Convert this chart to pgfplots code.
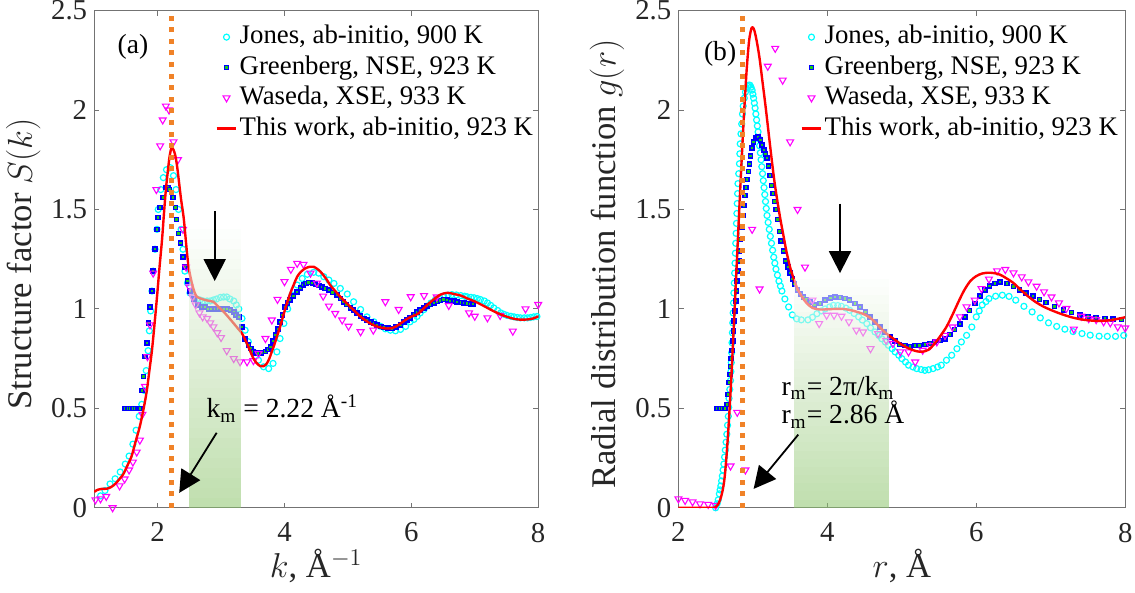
\documentclass[border=0pt]{standalone}
\usepackage{fontspec}
\setmainfont{Liberation Serif}
\usepackage{pgfplots}
\pgfplotsset{compat=1.18}
\usetikzlibrary{arrows.meta}

\definecolor{mcyan}{rgb}{0,1,1}
\definecolor{mblue}{rgb}{0,0,1}
\definecolor{mgreen}{rgb}{0.1,0.8,0.1}
\definecolor{mmag}{rgb}{1,0,1}
\definecolor{mred}{rgb}{1,0,0}
\definecolor{morange}{RGB}{240,130,40}
\definecolor{shadegreen}{RGB}{140,196,108}

\newcommand\fsTick{\fontsize{14.4}{17}\selectfont}
\newcommand\fsLab{\fontsize{17.3}{20}\selectfont}
\newcommand\fsLeg{\fontsize{13.4}{15}\selectfont}
\newcommand\fsAnn{\fontsize{13.8}{16}\selectfont}

\pgfplotsset{
 panel/.style={
  scale only axis, height=248.6pt,
  ymin=0, ymax=2.5, ytick={0,0.5,1,1.5,2,2.5},
  tick align=inside, major tick length=2.6pt,
  axis line style={black!55, line width=0.45pt},
  every tick/.style={black!55, line width=0.45pt},
  tick label style={font=\fsTick, text=black!85},
  /pgf/number format/assume math mode=true,
  xticklabel style={yshift=-4pt},
  every axis x label/.style={at={(axis description cs:0.5,-0.118)}, anchor=center, font=\fsLab, text=black!85},
  every axis y label/.style={at={(axis description cs:-0.16,0.49)}, rotate=90, anchor=center, font=\fsLab, text=black!85},
  legend style={draw=none, fill=none, font=\fsLeg, anchor=north west, inner sep=0pt, row sep=0.5pt,
     nodes={inner sep=1pt, text height=9.7pt, text depth=3pt}},
  legend cell align=left,
  clip mode=individual,
 },
 jones/.style={only marks, mark=o, mark size=1.5pt, color=mcyan, mark options={line width=0.6pt},
   legend image code/.code={\draw[##1] plot coordinates {(0.175cm,0cm)};}},
 green/.style={only marks, mark=square*, mark size=1.0pt, color=mblue,
   mark options={line width=0.8pt, draw=mblue, fill=mgreen},
   legend image code/.code={\draw[##1] plot coordinates {(0.175cm,0cm)};}},
 wased/.style={only marks, mark=triangle, mark size=2.0pt, color=mmag, mark options={rotate=180, line width=0.55pt},
   legend image code/.code={\draw[##1] plot coordinates {(0.175cm,0cm)};}},
 work/.style={mred, line width=1.2pt, smooth, no marks, line join=round,
   legend image code/.code={\draw[##1] (0cm,0cm) -- (0.35cm,0cm);}},
}

\begin{document}
\begin{tikzpicture}
\useasboundingbox (0,0) rectangle (567.5pt,296.5pt);

% ---------------- (a) S(k) ----------------
\begin{axis}[panel, at={(47.1pt,42.6pt)}, anchor=south west, width=222pt,
  xmin=1, xmax=8, xtick={2,4,6,8},
  xlabel={$k$, Å$^{-1}$}, ylabel={Structure factor $S(k)$},
  legend style={at={(0.272,0.977)}}]
\addplot[jones] coordinates {
(1.10,0.06)(1.17,0.087)(1.25,0.12)(1.33,0.146)(1.41,0.18)(1.49,0.22)(1.55,0.26)(1.61,0.32)
(1.66,0.39)(1.71,0.46)(1.75,0.52)(1.79,0.59)(1.82,0.69)(1.85,0.79)(1.87,0.89)(1.89,0.99)
(1.91,1.09)(1.93,1.19)(1.96,1.30)(1.99,1.40)(2.01,1.50)(2.05,1.60)(2.09,1.66)(2.14,1.70)
(2.20,1.71)(2.25,1.67)(2.29,1.60)(2.33,1.50)(2.37,1.40)(2.40,1.30)(2.43,1.19)(2.47,1.13)
(2.51,1.08)(2.57,1.06)(2.62,1.05)(2.67,1.045)(2.72,1.04)(2.78,1.04)(2.83,1.04)(2.88,1.045)
(2.93,1.05)(2.99,1.058)(3.04,1.06)(3.09,1.06)(3.14,1.05)(3.20,1.04)(3.24,1.02)(3.28,1.00)
(3.33,0.952)(3.38,0.893)(3.43,0.835)(3.51,0.784)(3.59,0.742)(3.67,0.709)(3.75,0.700)(3.82,0.726)
(3.88,0.784)(3.93,0.851)(3.99,0.927)(4.05,1.00)(4.12,1.07)(4.20,1.12)(4.28,1.153)(4.36,1.174)
(4.46,1.184)(4.54,1.18)(4.62,1.162)(4.70,1.145)(4.78,1.128)(4.88,1.103)(4.99,1.075)(5.09,1.036)
(5.20,0.997)(5.30,0.96)(5.41,0.935)(5.51,0.913)(5.59,0.90)(5.67,0.893)(5.75,0.890)(5.83,0.897)
(5.91,0.912)(5.98,0.935)(6.04,0.947)(6.09,0.962)(6.14,0.98)(6.20,0.997)(6.25,1.014)(6.31,1.03)
(6.38,1.047)(6.45,1.056)(6.51,1.064)(6.58,1.069)(6.64,1.072)(6.71,1.07)(6.78,1.067)(6.84,1.064)
(6.88,1.061)(6.94,1.058)(6.99,1.056)(7.04,1.052)(7.09,1.047)(7.15,1.04)(7.20,1.03)(7.25,1.018)
(7.30,1.005)(7.36,0.992)(7.41,0.980)(7.46,0.973)(7.51,0.967)(7.57,0.963)(7.62,0.960)(7.67,0.957)
(7.72,0.955)(7.78,0.955)(7.83,0.955)(7.88,0.957)(7.93,0.960)(7.98,0.962)};
\addlegendentry{Jones, ab-initio, 900 K}
\addplot[green] coordinates {
(1.49,0.50)(1.53,0.50)(1.57,0.50)(1.61,0.50)(1.65,0.50)(1.69,0.50)(1.72,0.50)(1.75,0.59)
(1.78,0.66)(1.80,0.76)(1.83,0.83)(1.855,0.93)(1.88,1.01)(1.91,1.09)(1.93,1.19)(1.96,1.30)
(1.99,1.40)(2.01,1.46)(2.04,1.51)(2.08,1.56)(2.13,1.61)(2.16,1.61)(2.19,1.60)(2.24,1.56)
(2.28,1.51)(2.30,1.45)(2.33,1.38)(2.36,1.33)(2.40,1.26)(2.43,1.21)(2.47,1.14)(2.51,1.09)
(2.57,1.05)(2.64,1.02)(2.70,1.01)(2.75,1.01)(2.80,1.00)(2.85,1.00)(2.90,1.00)(2.95,1.00)
(3.00,1.00)(3.05,1.00)(3.10,1.00)(3.15,0.995)(3.20,0.985)(3.24,0.97)(3.28,0.96)(3.33,0.91)
(3.38,0.85)(3.43,0.82)(3.47,0.80)(3.51,0.785)(3.55,0.778)(3.59,0.776)(3.64,0.778)(3.70,0.785)
(3.74,0.795)(3.78,0.81)(3.82,0.84)(3.86,0.87)(3.90,0.90)(3.93,0.935)(3.97,0.97)(4.01,1.01)
(4.05,1.03)(4.09,1.044)(4.14,1.065)(4.20,1.086)(4.25,1.105)(4.30,1.12)(4.34,1.128)(4.38,1.132)
(4.44,1.13)(4.49,1.125)(4.54,1.118)(4.59,1.111)(4.64,1.103)(4.70,1.095)(4.76,1.083)(4.83,1.07)
(4.88,1.053)(4.93,1.036)(4.98,1.022)(5.04,1.005)(5.09,0.994)(5.14,0.98)(5.20,0.965)(5.25,0.952)
(5.30,0.944)(5.36,0.935)(5.41,0.927)(5.46,0.92)(5.52,0.912)(5.57,0.907)(5.63,0.904)(5.70,0.902)
(5.76,0.909)(5.83,0.918)(5.88,0.935)(5.93,0.944)(5.98,0.955)(6.04,0.972)(6.09,0.983)(6.14,0.995)
(6.20,1.005)(6.25,1.014)(6.30,1.022)(6.36,1.03)(6.41,1.037)(6.46,1.043)(6.51,1.047)(6.57,1.044)
(6.62,1.040)(6.67,1.039)(6.72,1.035)(6.78,1.032)(6.83,1.03)(6.88,1.028)(6.93,1.026)(6.97,1.026)};
\addlegendentry{Greenberg, NSE, 923 K}
\addplot[wased] coordinates {
(1.02,0.040)(1.10,0.045)(1.19,0.057)(1.29,0.000)(1.40,0.110)(1.48,0.145)(1.55,0.190)(1.61,0.230)
(1.67,0.280)(1.72,0.340)(1.76,0.470)(1.80,0.610)(1.84,0.760)(1.88,0.920)(1.93,1.180)(1.98,1.600)
(2.04,1.820)(2.08,1.950)(2.13,2.020)(2.18,2.000)(2.25,1.840)(2.32,1.750)(2.40,1.400)(2.45,1.210)
(2.50,1.110)(2.55,1.060)(2.60,1.020)(2.66,0.980)(2.71,0.960)(2.78,0.952)(2.83,0.930)(2.88,0.910)
(2.94,0.880)(3.00,0.856)(3.09,0.790)(3.20,0.750)(3.30,0.734)(3.41,0.734)(3.51,0.740)(3.59,0.776)
(3.70,0.851)(3.80,0.944)(3.89,1.048)(4.00,1.137)(4.10,1.199)(4.20,1.229)(4.30,1.224)(4.41,1.180)
(4.51,1.130)(4.61,1.064)(4.70,1.014)(4.80,0.977)(4.91,0.944)(5.01,0.913)(5.20,0.885)(5.40,0.893)
(5.59,1.036)(5.80,0.997)(5.99,1.061)(6.20,1.067)(6.40,1.060)(6.59,1.017)(6.91,0.980)(7.00,0.963)
(7.20,0.955)(7.40,0.967)(7.60,0.888)(7.80,1.000)(8.00,1.022)};
\addlegendentry{Waseda, XSE, 933 K}
\addplot[work] coordinates {
(1.00,0.080)(1.05,0.090)(1.12,0.095)(1.20,0.096)(1.27,0.105)(1.33,0.12)(1.40,0.145)(1.46,0.17)
(1.52,0.21)(1.59,0.26)(1.65,0.33)(1.72,0.41)(1.78,0.50)(1.83,0.59)(1.87,0.69)(1.91,0.79)
(1.95,0.92)(1.99,1.06)(2.03,1.21)(2.07,1.35)(2.10,1.48)(2.13,1.60)(2.16,1.69)(2.19,1.77)
(2.22,1.81)(2.25,1.80)(2.28,1.77)(2.31,1.71)(2.34,1.63)(2.37,1.55)(2.41,1.46)(2.44,1.36)
(2.47,1.26)(2.50,1.19)(2.54,1.13)(2.58,1.085)(2.62,1.06)(2.67,1.053)(2.75,1.045)(2.82,1.04)
(2.88,1.036)(2.96,1.01)(3.04,0.986)(3.12,0.957)(3.20,0.927)(3.27,0.90)(3.33,0.877)(3.38,0.845)
(3.43,0.81)(3.47,0.78)(3.51,0.751)(3.56,0.728)(3.62,0.712)(3.67,0.712)(3.72,0.725)(3.76,0.75)
(3.80,0.785)(3.84,0.82)(3.88,0.86)(3.94,0.92)(3.99,0.977)(4.04,1.03)(4.09,1.078)(4.15,1.125)
(4.20,1.162)(4.26,1.187)(4.33,1.204)(4.40,1.212)(4.46,1.212)(4.53,1.198)(4.59,1.179)(4.66,1.15)
(4.72,1.12)(4.80,1.09)(4.88,1.061)(4.96,1.035)(5.04,1.01)(5.12,0.985)(5.20,0.96)(5.28,0.942)
(5.35,0.927)(5.43,0.915)(5.51,0.907)(5.59,0.902)(5.67,0.902)(5.75,0.91)(5.83,0.927)(5.91,0.945)
(5.99,0.96)(6.07,0.97)(6.14,0.985)(6.25,1.02)(6.35,1.047)(6.46,1.072)(6.57,1.081)(6.67,1.075)
(6.78,1.067)(6.88,1.053)(6.99,1.039)(7.10,1.022)(7.20,1.005)(7.30,0.988)(7.41,0.972)(7.51,0.96)
(7.62,0.95)(7.72,0.946)(7.83,0.947)(7.92,0.952)(8.00,0.962)};
\addlegendentry{This work, ab-initio, 923 K}
\addplot[morange, line width=2.5pt, dash pattern=on 2.5pt off 3.3pt, forget plot] coordinates {(2.22,0) (2.22,2.5)};
\pgfplotsinvokeforeach{0,...,27}{
  \fill[shadegreen!\the\numexpr100-(100*#1)/28\relax!white, opacity=0.55]
     (axis cs:2.5,{#1*1.4/28}) rectangle (axis cs:3.31,{(#1+1)*1.4/28});
}
\draw[black, line width=0.9pt, -{Triangle[width=11pt,length=11pt]}] (axis cs:2.90,1.49) -- (axis cs:2.90,1.14);
\draw[black, line width=0.9pt, -{Triangle[width=11pt,length=11pt]}] (axis cs:2.93,0.377) -- (axis cs:2.34,0.075);
\node[anchor=base west, font=\fsAnn] at (axis cs:2.66,0.452) {k\textsubscript{m} = 2.22 Å\textsuperscript{-1}};
\node[font=\fsAnn] at (axis cs:1.61,2.32) {(a)};
\end{axis}

% ---------------- (b) g(r) ----------------
\begin{axis}[panel, at={(339.2pt,42.6pt)}, anchor=south west, width=223.4pt,
  xmin=2, xmax=8, xtick={2,4,6,8},
  xlabel={$r$, Å}, ylabel={Radial distribution function $g(r)$},
  legend style={at={(0.272,0.977)}}]
\addplot[jones] coordinates {
(2.50,0.00)(2.52,0.02)(2.535,0.04)(2.55,0.07)(2.56,0.09)(2.57,0.11)(2.58,0.135)(2.59,0.16)
(2.60,0.19)(2.61,0.22)(2.62,0.255)(2.63,0.29)(2.64,0.33)(2.65,0.37)(2.66,0.415)(2.67,0.46)
(2.675,0.505)(2.68,0.55)(2.69,0.595)(2.70,0.64)(2.705,0.685)(2.71,0.73)(2.715,0.78)(2.72,0.83)
(2.725,0.88)(2.73,0.93)(2.735,0.98)(2.74,1.03)(2.745,1.08)(2.75,1.13)(2.755,1.18)(2.76,1.23)
(2.765,1.28)(2.77,1.33)(2.775,1.38)(2.78,1.43)(2.785,1.48)(2.79,1.53)(2.795,1.58)(2.80,1.63)
(2.81,1.68)(2.82,1.73)(2.825,1.78)(2.83,1.83)(2.84,1.88)(2.85,1.93)(2.86,1.98)(2.87,2.02)
(2.885,2.06)(2.90,2.09)(2.915,2.11)(2.93,2.12)(2.945,2.125)(2.96,2.125)(2.975,2.115)(2.99,2.10)
(3.00,2.08)(3.01,2.06)(3.02,2.035)(3.03,2.01)(3.04,1.98)(3.05,1.95)(3.06,1.92)(3.07,1.89)
(3.08,1.855)(3.09,1.82)(3.10,1.785)(3.11,1.75)(3.12,1.715)(3.13,1.68)(3.14,1.645)(3.15,1.61)
(3.16,1.575)(3.17,1.54)(3.18,1.505)(3.19,1.47)(3.205,1.435)(3.22,1.40)(3.235,1.365)(3.25,1.33)
(3.265,1.295)(3.28,1.26)(3.295,1.23)(3.31,1.20)(3.33,1.17)(3.35,1.14)(3.37,1.115)(3.39,1.09)
(3.43,1.05)(3.48,1.01)(3.53,0.97)(3.59,0.95)(3.65,0.945)(3.74,0.945)(3.80,0.958)(3.86,0.976)
(3.92,0.99)(3.97,1.00)(4.03,1.01)(4.08,1.018)(4.14,1.017)(4.19,1.013)(4.25,1.004)(4.30,0.993)
(4.36,0.977)(4.42,0.96)(4.47,0.944)(4.53,0.926)(4.58,0.905)(4.64,0.884)(4.69,0.867)(4.73,0.85)
(4.78,0.833)(4.82,0.817)(4.87,0.80)(4.91,0.784)(4.96,0.767)(5.00,0.75)(5.05,0.733)(5.09,0.717)
(5.15,0.708)(5.20,0.70)(5.26,0.695)(5.31,0.691)(5.36,0.694)(5.42,0.70)(5.48,0.708)(5.53,0.717)
(5.60,0.742)(5.67,0.767)(5.74,0.80)(5.80,0.834)(5.87,0.867)(5.94,0.909)(6.00,0.96)(6.04,0.99)
(6.08,1.02)(6.13,1.037)(6.17,1.052)(6.26,1.064)(6.35,1.069)(6.44,1.063)(6.53,1.044)(6.64,1.013)
(6.75,0.985)(6.86,0.955)(6.97,0.93)(7.08,0.912)(7.19,0.898)(7.30,0.886)(7.42,0.876)(7.53,0.868)
(7.65,0.863)(7.76,0.862)(7.87,0.862)(7.98,0.867)};
\addlegendentry{Jones, ab-initio, 900 K}
\addplot[green] coordinates {
(2.52,0.50)(2.555,0.50)(2.59,0.50)(2.625,0.50)(2.65,0.52)(2.665,0.57)(2.68,0.63)(2.69,0.67)
(2.70,0.71)(2.71,0.75)(2.72,0.79)(2.73,0.84)(2.74,0.89)(2.75,0.94)(2.76,0.99)(2.77,1.04)
(2.78,1.09)(2.79,1.14)(2.80,1.19)(2.81,1.24)(2.82,1.29)(2.835,1.35)(2.85,1.41)(2.865,1.47)
(2.88,1.52)(2.895,1.57)(2.91,1.61)(2.925,1.65)(2.94,1.69)(2.955,1.73)(2.97,1.77)(2.99,1.81)
(3.01,1.84)(3.04,1.86)(3.07,1.865)(3.10,1.85)(3.125,1.825)(3.15,1.80)(3.17,1.78)(3.19,1.76)
(3.21,1.72)(3.23,1.67)(3.25,1.62)(3.27,1.58)(3.29,1.54)(3.31,1.50)(3.33,1.45)(3.36,1.39)
(3.38,1.34)(3.41,1.29)(3.44,1.24)(3.47,1.21)(3.50,1.18)(3.53,1.15)(3.56,1.125)(3.60,1.095)
(3.64,1.075)(3.68,1.06)(3.72,1.047)(3.77,1.035)(3.83,1.020)(3.90,1.027)(3.97,1.044)(4.04,1.055)
(4.10,1.060)(4.17,1.057)(4.24,1.052)(4.30,1.044)(4.37,1.027)(4.44,1.01)(4.51,0.985)(4.57,0.96)
(4.64,0.935)(4.71,0.91)(4.77,0.884)(4.84,0.859)(4.91,0.839)(4.97,0.822)(5.04,0.817)(5.11,0.812)
(5.18,0.817)(5.24,0.817)(5.31,0.822)(5.38,0.826)(5.44,0.834)(5.51,0.842)(5.58,0.85)(5.65,0.872)
(5.71,0.896)(5.78,0.923)(5.85,0.96)(5.91,0.993)(5.98,1.027)(6.05,1.064)(6.12,1.094)(6.18,1.115)
(6.25,1.128)(6.32,1.134)(6.41,1.127)(6.50,1.112)(6.58,1.096)(6.67,1.08)(6.76,1.064)(6.85,1.048)
(6.94,1.033)(7.05,1.013)(7.17,0.996)(7.28,0.982)(7.39,0.970)(7.50,0.962)(7.61,0.956)(7.73,0.952)
(7.84,0.949)(7.95,0.947)};
\addlegendentry{Greenberg, NSE, 923 K}
\addplot[wased] coordinates {
(2.00,0.045)(2.09,0.037)(2.19,0.030)(2.29,0.020)(2.40,0.017)(2.50,0.012)(2.70,0.21)(2.79,0.48)
(2.90,0.19)(2.99,1.40)(3.09,1.10)(3.20,2.22)(3.30,2.31)(3.40,2.15)(3.50,1.84)(3.60,1.50)
(3.70,1.21)(3.80,1.044)(3.89,0.926)(3.99,0.968)(4.09,0.968)(4.19,0.963)(4.29,0.935)(4.39,0.893)
(4.48,0.884)(4.58,0.80)(4.68,0.876)(4.79,0.842)(4.88,0.826)(4.98,0.784)(5.09,0.784)(5.18,0.733)
(5.28,0.792)(5.38,0.817)(5.47,0.834)(5.58,0.867)(5.68,0.909)(5.78,0.96)(5.87,1.01)(5.98,1.044)
(6.07,1.102)(6.17,1.15)(6.28,1.191)(6.39,1.198)(6.50,1.181)(6.61,1.161)(6.70,1.136)(6.81,1.114)
(6.91,1.086)(7.01,1.06)(7.11,1.03)(7.21,1.002)(7.31,0.898)(7.41,0.963)(7.51,0.951)(7.61,0.946)
(7.71,0.935)(7.80,0.93)(7.90,0.91)(8.00,0.904)};
\addlegendentry{Waseda, XSE, 933 K}
\addplot[work] coordinates {
(2.00,0)(2.45,0)(2.50,0.004)(2.53,0.015)(2.56,0.04)(2.59,0.08)(2.62,0.15)(2.65,0.28)
(2.68,0.45)(2.71,0.65)(2.74,0.88)(2.77,1.12)(2.80,1.36)(2.83,1.60)(2.86,1.83)(2.89,2.04)
(2.92,2.22)(2.95,2.35)(2.98,2.41)(3.00,2.415)(3.02,2.40)(3.05,2.35)(3.09,2.26)(3.13,2.14)
(3.17,2.02)(3.21,1.89)(3.25,1.76)(3.29,1.64)(3.33,1.54)(3.37,1.45)(3.41,1.37)(3.45,1.29)
(3.50,1.21)(3.55,1.15)(3.60,1.10)(3.66,1.06)(3.72,1.03)(3.80,1.005)(3.90,0.997)(4.00,0.998)
(4.10,1.000)(4.20,1.000)(4.30,0.995)(4.40,0.985)(4.50,0.972)(4.60,0.948)(4.70,0.910)(4.80,0.874)
(4.90,0.847)(5.00,0.820)(5.10,0.800)(5.20,0.787)(5.28,0.785)(5.36,0.795)(5.44,0.825)(5.52,0.865)
(5.60,0.910)(5.68,0.970)(5.76,1.035)(5.84,1.095)(5.92,1.140)(6.00,1.165)(6.08,1.178)(6.16,1.182)
(6.24,1.180)(6.32,1.172)(6.40,1.155)(6.50,1.130)(6.60,1.095)(6.70,1.062)(6.80,1.034)(6.90,1.012)
(7.00,0.995)(7.10,0.980)(7.20,0.967)(7.30,0.956)(7.40,0.948)(7.50,0.943)(7.60,0.940)(7.70,0.940)
(7.80,0.943)(7.90,0.950)(8.00,0.958)};
\addlegendentry{This work, ab-initio, 923 K}
\addplot[morange, line width=2.5pt, dash pattern=on 2.5pt off 3.3pt, forget plot] coordinates {(2.86,0) (2.86,2.5)};
\pgfplotsinvokeforeach{0,...,27}{
  \fill[shadegreen!\the\numexpr100-(100*#1)/28\relax!white, opacity=0.55]
     (axis cs:3.55,{#1*1.15/28}) rectangle (axis cs:4.83,{(#1+1)*1.15/28});
}
\draw[black, line width=0.9pt, -{Triangle[width=11pt,length=11pt]}] (axis cs:4.17,1.53) -- (axis cs:4.17,1.18);
\draw[black, line width=0.9pt, -{Triangle[width=11pt,length=11pt]}] (axis cs:3.61,0.368) -- (axis cs:3.01,0.095);
\node[anchor=base west, font=\fsAnn] at (axis cs:3.29,0.564) {r\textsubscript{m}= 2π/k\textsubscript{m}};
\node[anchor=base west, font=\fsAnn] at (axis cs:3.29,0.422) {r\textsubscript{m}= 2.86 Å};
\node[font=\fsAnn] at (axis cs:2.56,2.28) {(b)};
\end{axis}
\end{tikzpicture}
\end{document}
